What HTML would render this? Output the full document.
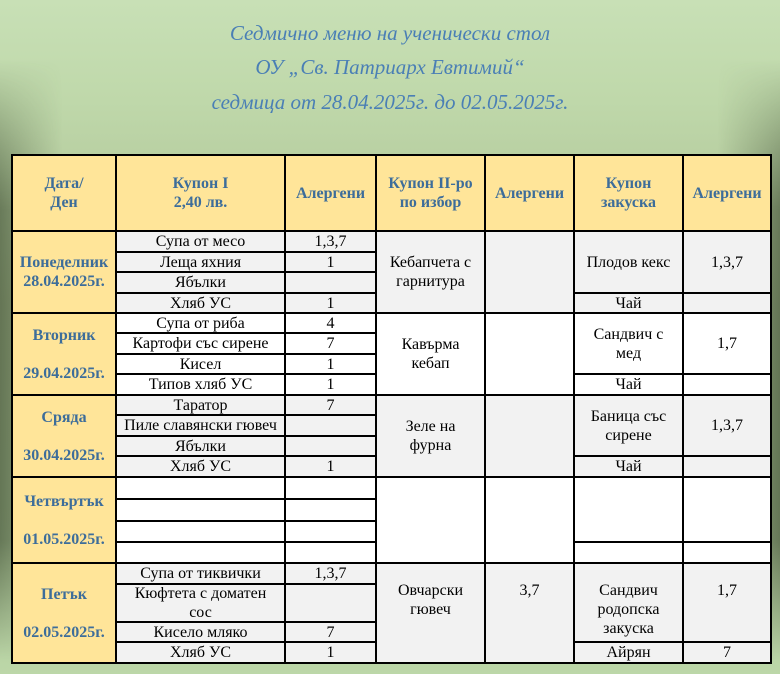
<!DOCTYPE html>
<html><head><meta charset="utf-8"><style>
body{margin:0;width:780px;height:674px;overflow:hidden;position:relative;
background:linear-gradient(to bottom,#c8e0b6 0%,#bfd8aa 15%,#a9bc90 45%,#a9bf93 75%,#bcd7a8 100%);
font-family:"Liberation Serif","Noto Serif CJK SC",serif;}
.edge{position:absolute;left:0;top:60px;width:780px;height:600px;
background:linear-gradient(to right,rgba(55,70,45,.6) 0%,rgba(55,70,45,0) 8%,rgba(55,70,45,0) 92%,rgba(55,70,45,.6) 100%);
-webkit-mask-image:linear-gradient(to bottom,transparent 0%,#000 25%,#000 80%,transparent 100%);}
.t{position:absolute;left:0;width:780px;text-align:center;color:#4a7fb5;font-style:italic;font-size:21px;}
.c{position:absolute;box-sizing:border-box;border:2px solid #000;display:flex;align-items:center;justify-content:center;text-align:center;font-size:16px;line-height:19px;color:#000;}
.h{color:#3d6d9a;font-weight:bold;}
.top{align-items:flex-start;padding-top:17px;}
</style></head><body>
<div class="edge"></div>
<div class="t" style="top:21px">Седмично меню на ученически стол</div>
<div class="t" style="top:55px">ОУ „Св. Патриарх Евтимий“</div>
<div class="t" style="top:90px">седмица от 28.04.2025г. до 02.05.2025г.</div>
<div id="g"></div>
<script>
var X=[11,115,284,375,484,573,682,770],H='';
function c(a,y1,b,y2,bg,t,cl){var x1=X[a],x2=X[b];H+='<div class="c '+(cl||'')+'" style="left:'+x1+'px;top:'+y1+'px;width:'+(x2-x1+2)+'px;height:'+(y2-y1+2)+'px;background:'+bg+'">'+t+'</div>';}
var Y='#ffe599',G='#f2f2f2',W='#fff';
var hd=['Дата/<br>Ден','Купон I<br>2,40 лв.','Алергени','Купон II-ро<br>по избор','Алергени','Купон<br>закуска','Алергени'];
for(var i=0;i<7;i++)c(i,154,i+1,230,Y,hd[i],'h');
function day(y0,ys,bg,dn,items,k2,a2,z,az,z2,az2,zy,cl){
 c(0,y0,1,ys[ys.length-1],Y,dn,'h');
 for(var i=0;i<items.length;i++){c(1,ys[i],2,ys[i+1],bg,items[i][0]);c(2,ys[i],3,ys[i+1],bg,items[i][1]);}
 var e=ys[ys.length-1];
 c(3,y0,4,e,bg,k2,cl);c(4,y0,5,e,bg,a2,cl);
 c(5,y0,6,zy,bg,z,cl);c(6,y0,7,zy,bg,az,cl);
 c(5,zy,6,e,bg,z2);c(6,zy,7,e,bg,az2);
}
day(230,[230,251,271,292,312],G,'Понеделник<br>28.04.2025г.',[['Супа от месо','1,3,7'],['Леща яхния','1'],['Ябълки',''],['Хляб УС','1']],'Кебапчета с<br>гарнитура','','Плодов кекс','1,3,7','Чай','',292);
day(312,[312,332,353,373,394],W,'Вторник<br><br>29.04.2025г.',[['Супа от риба','4'],['Картофи със сирене','7'],['Кисел','1'],['Типов хляб УС','1']],'Кавърма<br>кебап','','Сандвич с<br>мед','1,7','Чай','',373);
day(394,[394,414,435,455,476],G,'Сряда<br><br>30.04.2025г.',[['Таратор','7'],['Пиле славянски гювеч',''],['Ябълки',''],['Хляб УС','1']],'Зеле на<br>фурна','','Баница със<br>сирене','1,3,7','Чай','',455);
day(476,[476,498,520,541,562],W,'Четвъртък<br><br>01.05.2025г.',[['',''],['',''],['',''],['','']],'','','','','','',541);
day(562,[562,583,621,641,662],G,'Петък<br><br>02.05.2025г.',[['Супа от тиквички','1,3,7'],['Кюфтета с доматен<br>сос',''],['Кисело мляко','7'],['Хляб УС','1']],'Овчарски<br>гювеч','3,7','Сандвич<br>родопска<br>закуска','1,7','Айрян','7',641,'top');
document.getElementById('g').innerHTML=H;
</script>
</body></html>
